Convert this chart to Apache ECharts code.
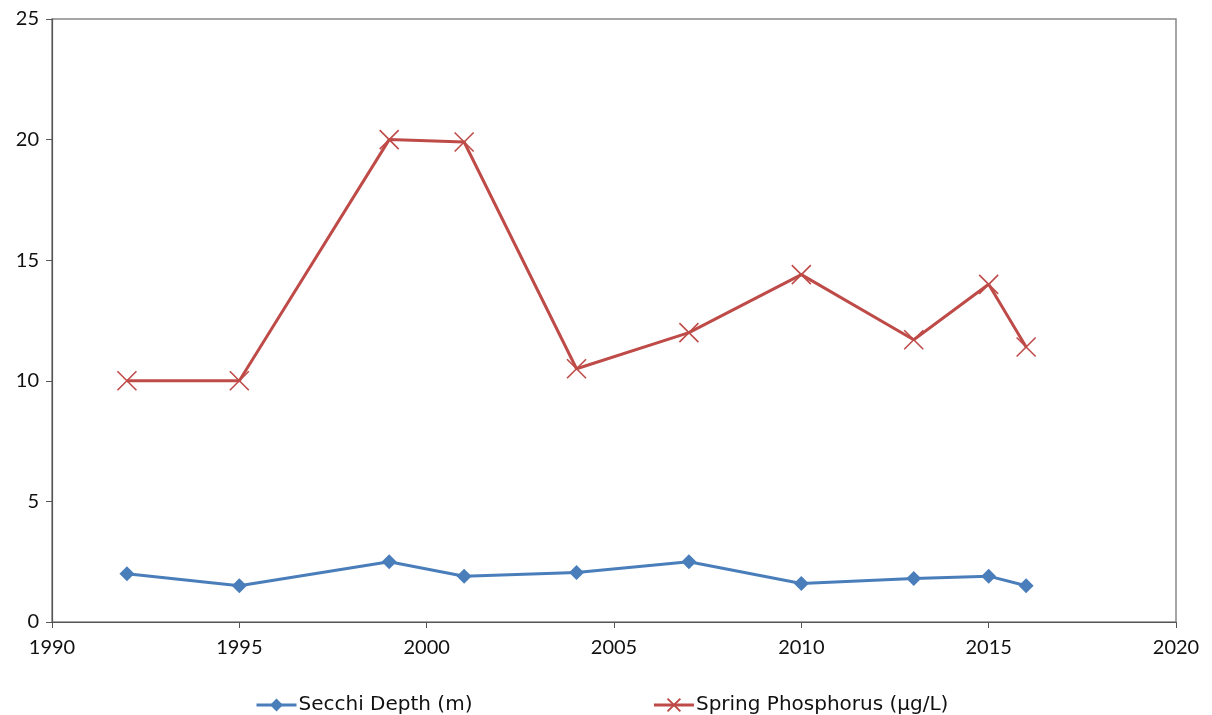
<!DOCTYPE html>
<html><head><meta charset="utf-8">
<script src="https://cdn.jsdelivr.net/npm/echarts@6/dist/echarts.min.js"></script>
<style>html,body{margin:0;padding:0;background:#fff}#c{width:1212px;height:715px}</style>
</head><body><div id="c"></div>
<script>
const years = [1992, 1995, 1999, 2001, 2004, 2007, 2010, 2013, 2015, 2016];
const secchi = [2.0, 1.5, 2.5, 1.9, 2.05, 2.5, 1.6, 1.8, 1.9, 1.5];
const phosphorus = [10, 10, 20, 19.9, 10.5, 12, 14.4, 11.7, 14, 11.4];
const xTicks = [1990, 1995, 2000, 2005, 2010, 2015, 2020];
const yTicks = [0, 5, 10, 15, 20, 25];

const font = 'Lato, "DejaVu Sans", sans-serif';
const legendFont = '"DejaVu Sans", sans-serif';
const xPath = 'path://M0,0L10,10M0,10L10,0';
const chart = echarts.init(document.getElementById('c'));
chart.setOption({
  animation: false,
  backgroundColor: '#fff',
  grid: {left: 52, top: 19, right: 36, bottom: 93, show: true, borderColor: '#888', borderWidth: 1.5},
  xAxis: {
    type: 'value', min: xTicks[0], max: xTicks[xTicks.length-1], interval: 5,
    axisLine: {show: true, lineStyle: {color: '#555', width: 1.2}},
    axisTick: {show: true, length: 6, lineStyle: {color: '#555'}},
    splitLine: {show: false},
    axisLabel: {color: '#111', fontSize: 20, fontFamily: font, margin: 16, formatter: v => String(v)}
  },
  yAxis: {
    type: 'value', min: yTicks[0], max: yTicks[yTicks.length-1], interval: 5,
    axisLine: {show: true, lineStyle: {color: '#555', width: 1.2}},
    axisTick: {show: true, length: 6, lineStyle: {color: '#555'}},
    splitLine: {show: false},
    axisLabel: {color: '#111', fontSize: 20, fontFamily: font, margin: 13}
  },
  legend: {
    top: 690, left: 250, itemGap: 180, itemWidth: 40, itemHeight: 16,
    lineStyle: {width: 3},
    textStyle: {fontSize: 20, fontFamily: legendFont, color: '#111', padding: [0,0,0,-3]},
    data: ['Secchi Depth (m)', 'Spring Phosphorus (µg/L)']
  },
  series: [
    {
      name: 'Secchi Depth (m)', type: 'line',
      data: years.map((y, i) => [y, secchi[i]]),
      symbol: 'diamond', symbolSize: 15,
      lineStyle: {color: '#4a7ebb', width: 3},
      itemStyle: {color: '#4a7ebb'}
    },
    {
      name: 'Spring Phosphorus (µg/L)', type: 'line',
      data: years.map((y, i) => [y, phosphorus[i]]),
      symbol: xPath, symbolSize: 19,
      lineStyle: {color: '#be4b48', width: 3},
      itemStyle: {color: 'rgba(0,0,0,0)', borderColor: '#be4b48', borderWidth: 1.6}
    }
  ]
});
</script></body></html>
